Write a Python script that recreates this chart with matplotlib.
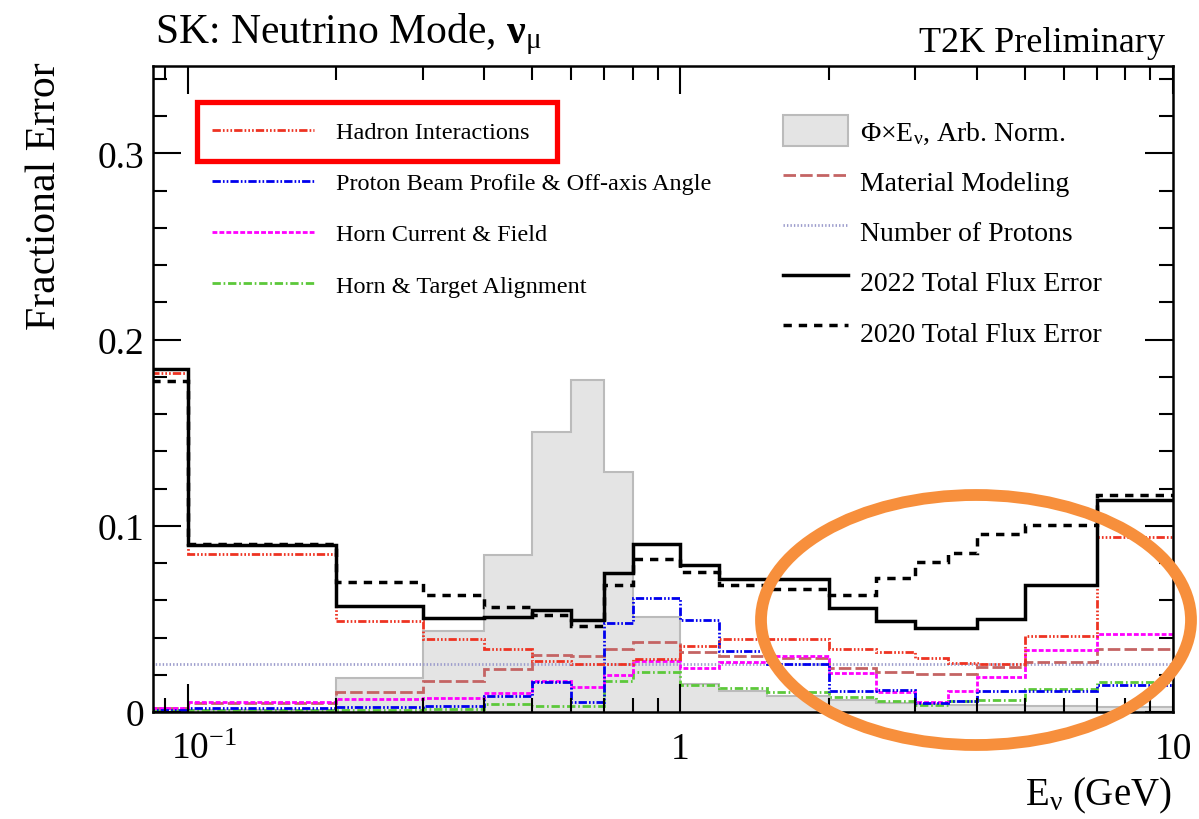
import numpy as np
import matplotlib
matplotlib.use("Agg")
import matplotlib.pyplot as plt
import matplotlib.transforms as mtransforms
from matplotlib.patches import Rectangle, Ellipse
from matplotlib.ticker import FixedLocator, FuncFormatter, NullFormatter, LogLocator, MultipleLocator

plt.rcParams['font.family'] = ['Liberation Serif', 'DejaVu Serif']
plt.rcParams['mathtext.fontset'] = 'custom'
plt.rcParams['mathtext.rm'] = 'Liberation Serif'
plt.rcParams['mathtext.it'] = 'Liberation Serif:italic'
plt.rcParams['mathtext.bf'] = 'Liberation Serif:bold'
plt.rcParams['lines.scale_dashes'] = False

# bin edges in GeV (first bin starts at 0, drawn from 0.01 on log axis)
edges = [0.01, 0.1, 0.2, 0.3, 0.4, 0.5, 0.6, 0.7, 0.8, 1.0, 1.2, 1.5,
         2.0, 2.5, 3.0, 3.5, 4.0, 5.0, 7.0, 10.0]

flux = [0.0, 0.001, 0.018, 0.0437, 0.0844, 0.1505, 0.1785, 0.129, 0.051, 0.015,
        0.0115, 0.0085, 0.0065, 0.005, 0.0045, 0.004, 0.0035, 0.003, 0.0025]
hadron = [0.182, 0.085, 0.049, 0.039, 0.034, 0.0275, 0.026, 0.026, 0.0285, 0.0355,
          0.039, 0.039, 0.034, 0.032, 0.029, 0.0263, 0.026, 0.041, 0.094]
beam = [0.001, 0.002, 0.0027, 0.003, 0.0086, 0.016, 0.0053, 0.048, 0.061, 0.0495,
        0.0328, 0.026, 0.0115, 0.0118, 0.0048, 0.006, 0.0113, 0.0113, 0.0145]
horn_current = [0.002, 0.0053, 0.007, 0.0075, 0.0102, 0.0167, 0.0134, 0.020, 0.0275, 0.0235,
                0.027, 0.030, 0.021, 0.0108, 0.0053, 0.0113, 0.019, 0.0335, 0.042]
alignment = [0.001, 0.001, 0.001, 0.0016, 0.0043, 0.003, 0.0033, 0.0167, 0.0215, 0.0145,
             0.013, 0.0107, 0.008, 0.006, 0.0037, 0.006, 0.0065, 0.0124, 0.016]
material = [0.002, 0.005, 0.011, 0.0167, 0.023, 0.0306, 0.030, 0.034, 0.0376, 0.032,
            0.030, 0.029, 0.0237, 0.0215, 0.0204, 0.0204, 0.024, 0.027, 0.034]
protons = [0.026, 0.026, 0.026, 0.026, 0.026, 0.026, 0.026, 0.026, 0.026, 0.026,
           0.026, 0.026, 0.026, 0.026, 0.026, 0.026, 0.026, 0.026, 0.026]
total_2022 = [0.184, 0.0895, 0.057, 0.0505, 0.051, 0.055, 0.0495, 0.0747, 0.090, 0.0787,
              0.0715, 0.0715, 0.056, 0.049, 0.045, 0.045, 0.050, 0.068, 0.114]
total_2020 = [0.178, 0.0905, 0.070, 0.063, 0.0565, 0.052, 0.046, 0.068, 0.082, 0.075,
              0.068, 0.066, 0.063, 0.072, 0.0806, 0.0855, 0.0957, 0.1005, 0.1163]

fig = plt.figure(figsize=(11.99, 8.2), dpi=100)
ax = fig.add_axes([153/1199, 1-713/820, 1020/1199, 646/820])

h_flux = ax.stairs(flux, edges, fill=True, facecolor='#e4e4e4', edgecolor='#bbbbbb',
                   lw=1.5, label=r'Φ×E$_\mathrm{ν}$, Arb. Norm.')
h_prot = ax.stairs(protons, edges, baseline=None, color='#9d9dcc', lw=2, ls=(0, (1, 1.5)),
                   label='Number of Protons')
h_mat = ax.stairs(material, edges, baseline=None, color='#c46464', lw=2, ls=(0, (9, 3)),
                  label='Material Modeling')
h_align = ax.stairs(alignment, edges, baseline=None, color='#5cc83a', lw=2,
                    ls=(0, (6, 2, 1.2, 2)), label='Horn & Target Alignment')
h_horn = ax.stairs(horn_current, edges, baseline=None, color='#ff00ff', lw=2,
                   ls=(0, (3.5, 1.5)), label='Horn Current & Field')
h_beam = ax.stairs(beam, edges, baseline=None, color='#0000ee', lw=2,
                   ls=(0, (6, 1.5, 1.2, 1.5, 1.2, 1.5)), label='Proton Beam Profile & Off-axis Angle')
h_had = ax.stairs(hadron, edges, baseline=None, color='#ee3322', lw=2,
                  ls=(0, (6, 1.5, 1.2, 1.5, 1.2, 1.5, 1.2, 1.5)), label='Hadron Interactions')
h_20 = ax.stairs(total_2020, edges, baseline=None, color='black', lw=2.5, ls=(0, (6, 5)),
                 label='2020 Total Flux Error')
h_22 = ax.stairs(total_2022, edges, baseline=None, color='black', lw=2.5,
                 label='2022 Total Flux Error')

ax.set_xscale('log')
ax.set_xlim(0.085, 10)
ax.set_ylim(0, 0.347)

ax.xaxis.set_major_locator(FixedLocator([0.1, 1, 10]))
ax.xaxis.set_major_formatter(FuncFormatter(
    lambda v, p: r'$10^{-1}$' if v < 0.5 else ('1' if v < 5 else '10')))
ax.xaxis.set_minor_locator(LogLocator(base=10, subs=range(2, 10)))
ax.xaxis.set_minor_formatter(NullFormatter())
ax.yaxis.set_major_locator(FixedLocator([0, 0.1, 0.2, 0.3]))
ax.yaxis.set_major_formatter(FuncFormatter(lambda v, p: '0' if v == 0 else f'{v:.1f}'))
ax.yaxis.set_minor_locator(MultipleLocator(0.02))

ax.tick_params(which='both', direction='in', top=True, right=True, width=1.5)
ax.tick_params(which='major', length=20, labelsize=27)
ax.tick_params(which='minor', length=10)
ax.tick_params(axis='x', which='major', pad=14)
ax.tick_params(axis='y', which='major', pad=6)
for s in ax.spines.values():
    s.set_linewidth(1.8)

# nudge the 10^-1 label to the right like the original
shift = mtransforms.ScaledTranslation(16/100, 0, fig.dpi_scale_trans)
first = ax.xaxis.get_major_ticks()[0].label1
first.set_transform(first.get_transform() + shift)

leg1 = ax.legend(handles=[h_had, h_beam, h_horn, h_align], loc='upper left',
                 bbox_to_anchor=(212/1199, 1-122/820), bbox_transform=fig.transFigure,
                 frameon=False, fontsize=17.5, handlelength=4.2, handletextpad=0.9,
                 labelspacing=1.2, borderpad=0, borderaxespad=0)
ax.add_artist(leg1)
ax.legend(handles=[h_flux, h_mat, h_prot, h_22, h_20], loc='upper left',
          bbox_to_anchor=(783/1199, 1-116/820), bbox_transform=fig.transFigure,
          frameon=False, fontsize=20, handlelength=2.35, handleheight=1.33,
          handletextpad=0.43, labelspacing=0.7, borderpad=0, borderaxespad=0)

fig.text(155/1199, 1-43/820, r'SK: Neutrino Mode, $\mathbf{ν}_{\mathrm{μ}}$', fontsize=30,
         va='baseline', ha='left')
fig.text(1165/1199, 1-52/820, 'T2K Preliminary', fontsize=26, va='baseline', ha='right')
fig.text(45/1199, 1-62/820, 'Fractional Error', fontsize=30, rotation=90,
         ha='center', va='top')
fig.text(1172/1199, 1-816/820, r'E$_\mathrm{ν}$ (GeV)', fontsize=28, ha='right', va='bottom')

# highlight annotations
fig.add_artist(Rectangle((197/1199, 1-162/820), 360/1199, 59/820, transform=fig.transFigure,
                         fill=False, edgecolor='#ff0000', lw=3.8))
fig.add_artist(Ellipse((976/1199, 1-621/820), 430/1199, 250/820, transform=fig.transFigure,
                       fill=False, edgecolor='#f78f3c', lw=8.5))

fig.savefig('out.png', dpi=100)
